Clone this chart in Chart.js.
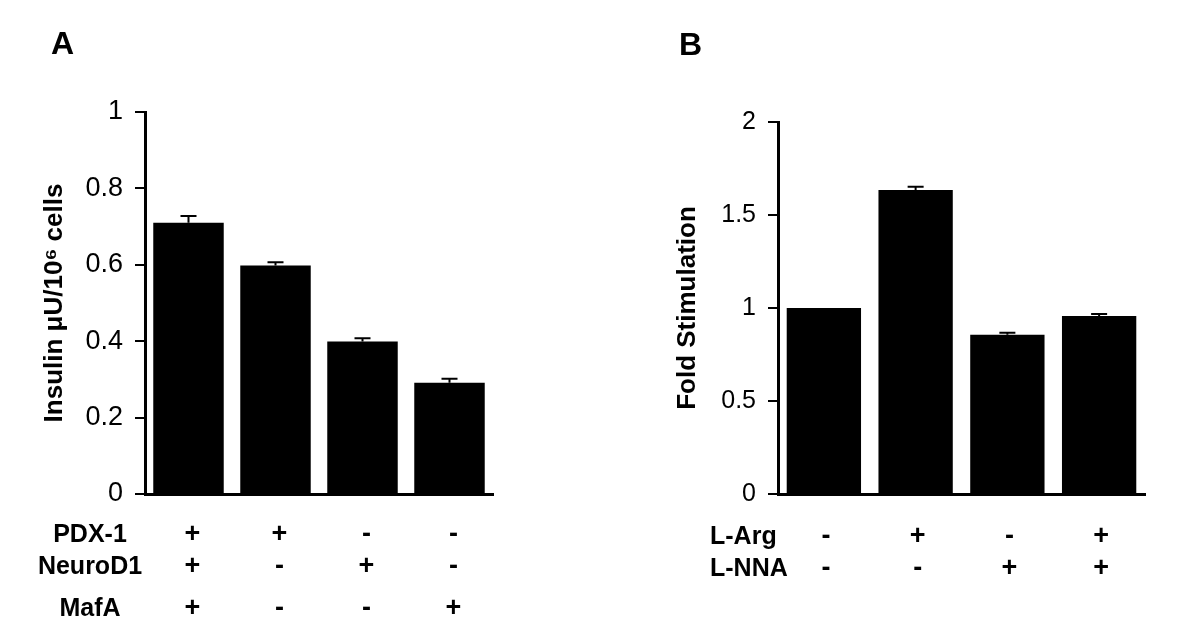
<!DOCTYPE html>
<html>
<head>
<meta charset="utf-8">
<script src="https://cdn.jsdelivr.net/npm/chart.js@4.4.0/dist/chart.umd.min.js"></script>
<style>
  body { margin: 0; background: #fff; }
  #wrap { position: relative; width: 1200px; height: 640px; }
  .panel { position: absolute; top: 0; width: 600px; height: 640px; }
  .letter { position: absolute; font: bold 32px "Liberation Sans", Arial, sans-serif; color: #000; }
</style>
</head>
<body>
<div id="wrap">
  <div class="panel" style="left:0"><canvas id="chartA" width="600" height="640"></canvas></div>
  <div class="panel" style="left:600px"><canvas id="chartB" width="600" height="640"></canvas></div>
  <div class="letter" style="left:51px; top:25px">A</div>
  <div class="letter" style="left:679px; top:26px">B</div>
</div>
<script>
// panel A data
const categoriesA = ['1', '2', '3', '4'];
const insulin = [0.71, 0.598, 0.399, 0.291];
const insulinErr = [0.018, 0.009, 0.009, 0.011];
const rowNamesA = ['PDX-1', 'NeuroD1', 'MafA'];
const rowSignsA = [
    ['+', '+', '-', '-'],
    ['+', '-', '+', '-'],
    ['+', '-', '-', '+']
];
const ticksA = [0, 0.2, 0.4, 0.6, 0.8, 1];

// panel B data
const categoriesB = ['1', '2', '3', '4'];
const foldStim = [1.0, 1.634, 0.856, 0.957];
const foldErr = [0, 0.018, 0.011, 0.011];
const rowNamesB = ['L-Arg', 'L-NNA'];
const rowSignsB = [
    ['-', '+', '-', '+'],
    ['-', '-', '+', '+']
];
const ticksB = [0, 0.5, 1, 1.5, 2];

const FONT = '"Liberation Sans", Arial, sans-serif';

// draws upward error bars from the y scale
const errorBars = {
    id: 'errorBars',
    afterDatasetsDraw(chart, args, opts) {
        const ctx = chart.ctx;
        const meta = chart.getDatasetMeta(0);
        const y = chart.scales.y;
        const vals = chart.data.datasets[0].data;
        ctx.save();
        ctx.strokeStyle = '#000';
        ctx.lineWidth = 2;
        meta.data.forEach((bar, i) => {
            const e = opts.errors[i];
            if (!e) return;
            const top = y.getPixelForValue(vals[i] + e);
            const base = y.getPixelForValue(vals[i]);
            ctx.beginPath();
            ctx.moveTo(bar.x, base);
            ctx.lineTo(bar.x, top);
            ctx.moveTo(bar.x - 8, top);
            ctx.lineTo(bar.x + 8, top);
            ctx.stroke();
        });
        ctx.restore();
    }
};

// the +/- table under the bars
const signTable = {
    id: 'signTable',
    afterDraw(chart, args, opts) {
        const ctx = chart.ctx;
        const x = chart.scales.x;
        ctx.save();
        ctx.fillStyle = '#000';
        ctx.textBaseline = 'middle';
        opts.names.forEach((name, r) => {
            const ry = opts.rowY[r];
            ctx.font = 'bold 25px ' + FONT;
            ctx.textAlign = opts.nameAlign;
            ctx.fillText(name, opts.nameX, ry);
            ctx.textAlign = 'center';
            opts.signs[r].forEach((s, i) => {
                ctx.font = 'bold 27px ' + FONT;
                ctx.fillText(s, x.getPixelForValue(i) + opts.signShift, ry);
            });
        });
        ctx.restore();
    }
};

function makeChart(id, cats, vals, errs, ticks, yMax, title, titlePad, tickSize, yWidth, pad, table) {
    return new Chart(document.getElementById(id), {
        type: 'bar',
        data: {
            labels: cats,
            datasets: [{
                data: vals,
                backgroundColor: '#000',
                borderWidth: 0,
                barPercentage: 0.81,
                categoryPercentage: 1
            }]
        },
        options: {
            responsive: false,
            animation: false,
            layout: { padding: pad },
            plugins: {
                legend: { display: false },
                tooltip: { enabled: false },
                errorBars: { errors: errs },
                signTable: table
            },
            scales: {
                x: {
                    ticks: { display: false },
                    grid: { display: false },
                    border: { display: true, color: '#000', width: 3 },
                    afterFit: s => { s.height = 0; }
                },
                y: {
                    min: 0,
                    max: yMax,
                    afterBuildTicks: s => { s.ticks = ticks.map(v => ({ value: v })); },
                    ticks: {
                        color: '#000',
                        padding: 12,
                        font: { family: FONT, size: tickSize },
                        callback: v => String(+v.toFixed(2))
                    },
                    grid: { drawOnChartArea: false, color: '#000', lineWidth: 2, tickLength: 10 },
                    border: { display: true, color: '#000', width: 3 },
                    title: {
                        display: true,
                        text: title,
                        color: '#000',
                        padding: { top: titlePad, bottom: 0 },
                        font: { family: FONT, size: 26, weight: 'bold' }
                    },
                    afterFit: s => { s.width = yWidth; }
                }
            }
        },
        plugins: [errorBars, signTable]
    });
}

makeChart('chartA', categoriesA, insulin, insulinErr, ticksA, 1,
    'Insulin \u03bcU/10\u2076 cells', 39, 27, 145,
    { left: 0, right: 107, top: 112, bottom: 146 },
    { names: rowNamesA, signs: rowSignsA, rowY: [535, 567, 609], nameX: 90, nameAlign: 'center', signShift: 4 });

makeChart('chartB', categoriesB, foldStim, foldErr, ticksB, 2,
    'Fold Stimulation', 72, 25, 178,
    { left: 0, right: 55, top: 122, bottom: 146 },
    { names: rowNamesB, signs: rowSignsB, rowY: [537, 569], nameX: 110, nameAlign: 'left', signShift: 2 });
</script>
</body>
</html>
